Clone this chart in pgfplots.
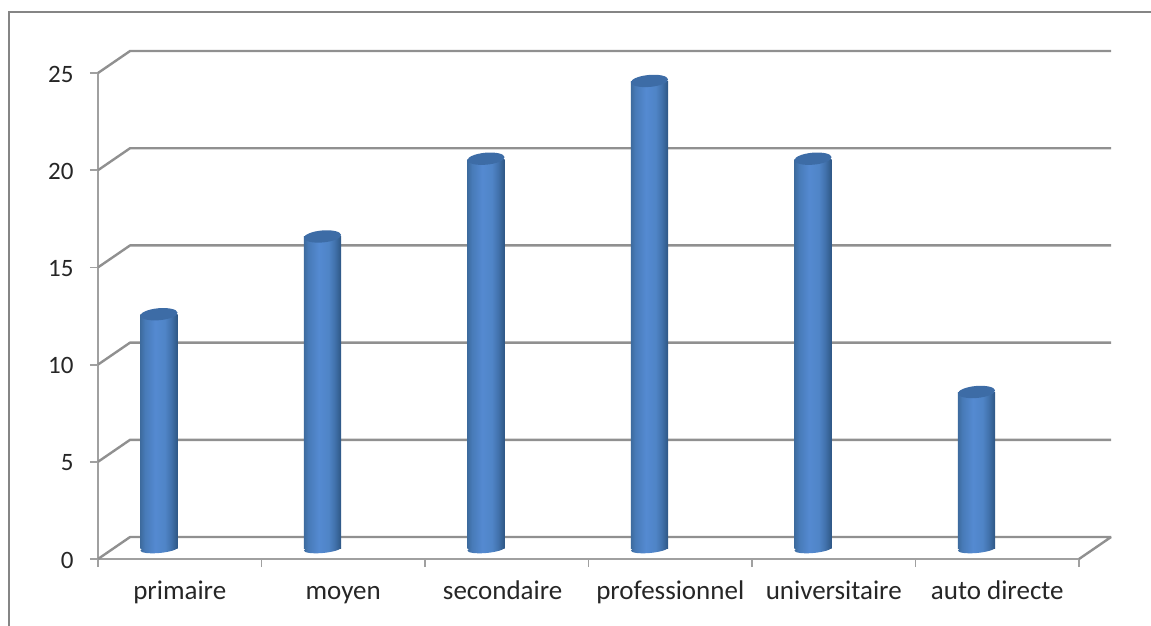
\documentclass[border=0pt]{standalone}
\usepackage{fontspec}
\setmainfont{Carlito}
\usepackage{pgfplots}
\usepackage{pgfplotstable}
\pgfplotsset{compat=1.18}

\definecolor{axisgray}{HTML}{A0A0A0}
\definecolor{gridgray}{HTML}{909090}
\definecolor{framegray}{HTML}{858585}
\definecolor{captop}{HTML}{3D6CA6}

% only the band 25bp..75bp of the shading lands on the path
\pgfdeclarehorizontalshading{cyl}{100bp}{
  rgb(0bp)=(0.24,0.42,0.62);
  rgb(25bp)=(0.24,0.42,0.62);
  rgb(31bp)=(0.28,0.48,0.72);
  rgb(45bp)=(0.33,0.54,0.82);
  rgb(58bp)=(0.31,0.52,0.78);
  rgb(66bp)=(0.26,0.45,0.68);
  rgb(75bp)=(0.18,0.34,0.52);
  rgb(100bp)=(0.18,0.34,0.52)}

\pgfdeclareplotmark{cyltop}{%
  \pgftransformrotate{5}%
  \pgfpathellipse{\pgfpointorigin}{\pgfqpoint{18.6pt}{0pt}}{\pgfqpoint{0pt}{6pt}}%
  \pgfusepathqfill}
\pgfdeclareplotmark{cylbottom}{%
  \pgftransformrotate{5}%
  \pgfpathellipse{\pgfpointorigin}{\pgfqpoint{18.6pt}{0pt}}{\pgfqpoint{0pt}{4pt}}%
  \pgfshadepath{cyl}{0}\pgfusepath{discard}}

\pgfplotsset{cylinder bar/.style={ybar,bar width=37.2pt,bar shift=0pt,draw=none,
  shade,shading=cyl,yshift=11pt,forget plot}}

\pgfplotstableread{
x v
0.373 12
1.373 16
2.373 20
3.373 24
4.373 20
5.373 8
}\bars

\begin{document}
\begin{tikzpicture}[x=1pt,y=1pt]
  \path[use as bounding box] (0,0) rectangle (1151,625);
  \draw[framegray,line width=2.6pt] (9,-2) -- (9,613) -- (1153,613);
  \begin{axis}[
    at={(98pt,66pt)}, anchor=south west,
    scale only axis, width=981pt, height=486pt,
    xmin=0, xmax=6, ymin=0, ymax=25,
    clip=false,
    axis x line*=bottom, axis y line*=left,
    axis line style={axisgray,line width=2.5pt,-},
    xtick={0.5,1.5,2.475,3.5,4.5,5.5},
    xticklabels={primaire,moyen,secondaire,professionnel,universitaire,auto directe},
    minor xtick={0,1,2,3,4,5,6},
    ytick={0,5,...,25},
    tick align=outside,
    major tick length=8pt,
    x tick style={draw=none},
    minor tick length=8pt,
    minor x tick style={axisgray,line width=1.8pt,draw=axisgray},
    y tick style={axisgray,line width=1.8pt},
    x tick label style={font=\fontsize{27}{31}\selectfont,text=black!85,text height=17pt,text depth=5pt,yshift=-12pt},
    y tick label style={font=\fontsize{25}{29}\selectfont,text=black!85,xshift=-13pt,yshift=-1pt},
    /pgf/number format/assume math mode=true,
  ]
    % back wall lines
    \addplot[gridgray,line width=2.4pt,unbounded coords=jump,forget plot,line join=bevel] coordinates {
      (0,0) (0.196,1.13) (6.196,1.13) (6,0)
      (nan,nan)
      (0,5) (0.196,6.13) (6.196,6.13)
      (nan,nan)
      (0,10) (0.196,11.13) (6.196,11.13)
      (nan,nan)
      (0,15) (0.196,16.13) (6.196,16.13)
      (nan,nan)
      (0,20) (0.196,21.13) (6.196,21.13)
      (nan,nan)
      (0,25) (0.196,26.13) (6.196,26.13)
    };
    % cylinders: foot, body, lid
    \addplot[only marks,mark=cylbottom,yshift=10pt,forget plot]
      table[x=x,y expr=0] {\bars};
    \addplot[cylinder bar] coordinates {(0.373,12)};
    \addplot[cylinder bar] coordinates {(1.373,16)};
    \addplot[cylinder bar] coordinates {(2.373,20)};
    \addplot[cylinder bar] coordinates {(3.373,24)};
    \addplot[cylinder bar] coordinates {(4.373,20)};
    \addplot[cylinder bar] coordinates {(5.373,8)};
    \addplot[only marks,mark=cyltop,mark options={fill=captop,draw=none},color=captop,yshift=11.5pt,forget plot]
      table[x=x,y=v] {\bars};
  \end{axis}
\end{tikzpicture}
\end{document}
